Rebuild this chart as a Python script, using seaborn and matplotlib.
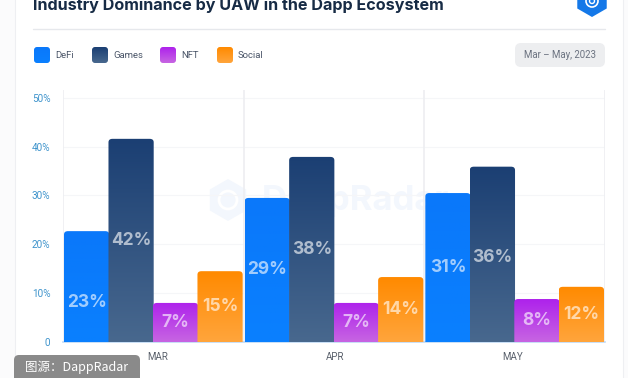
import numpy as np
import pandas as pd
import matplotlib
matplotlib.use("Agg")
import matplotlib.pyplot as plt
import matplotlib.colors as mcolors
from matplotlib.patches import FancyBboxPatch, RegularPolygon, Circle, Rectangle
from matplotlib.transforms import ScaledTranslation
import seaborn as sns

months = ["MAR", "APR", "MAY"]
sectors = ["DeFi", "Games", "NFT", "Social"]
defi = [22.7, 29.5, 30.5]
games = [41.6, 37.9, 35.9]
nft = [8.0, 8.0, 8.8]
social = [14.5, 13.3, 11.3]
defi_labels = ["23%", "29%", "31%"]
games_labels = ["42%", "38%", "36%"]
nft_labels = ["7%", "7%", "8%"]
social_labels = ["15%", "14%", "12%"]
yticks = [0, 10, 20, 30, 40, 50]
ytick_labels = ["0", "10%", "20%", "30%", "40%", "50%"]
title = "Industry Dominance by UAW in the Dapp Ecosystem"
date_range = "Mar – May, 2023"
source = "图源：DappRadar"

# top and bottom colour of each bar gradient
grads = {"DeFi": ("#0A78FA", "#0A80FF"), "Games": ("#1B3F73", "#48688E"),
         "NFT": ("#AE22EC", "#C765E2"), "Social": ("#FF8A00", "#FFA53C")}

W, H = 628, 378
sns.set_theme(style="white")
plt.rcParams["font.family"] = ["Roboto", "DejaVu Sans"]
fig = plt.figure(figsize=(W / 100, H / 100), dpi=100, facecolor="#FBFBFC")

# page level things are placed in pixels
bg = fig.add_axes([0, 0, 1, 1], zorder=0)
bg.set_xlim(0, W)
bg.set_ylim(H, 0)
bg.axis("off")
bg.add_patch(Rectangle((15, -5), 608, H + 10, fc="white", ec="#EEEFF2", lw=0.8))
bg.plot([33, 605], [29, 29], color="#E6E8EC", lw=1)
bg.text(33, 5.5, title, fontsize=11.6, fontweight="bold", family="Inter", color="#172B45", va="center", ha="left")
bg.add_patch(RegularPolygon((592, 0), 6, radius=17, fc="#1478E8", ec="none"))
bg.add_patch(Circle((592, 1), 6, fc="none", ec="white", lw=1.2))
bg.add_patch(Circle((592, 1), 2.5, fc="none", ec="white", lw=1))

# watermark
bg.add_patch(RegularPolygon((228, 200), 6, radius=21, fc="#F3F7FD", ec="none"))
bg.add_patch(Circle((228, 200), 9, fc="none", ec="white", lw=2))
bg.text(262, 201, "DappRadar", fontsize=25, fontweight="bold", family="Inter", color="#F3F7FD", va="center", ha="left")

# legend
leg_x = [34, 92, 160, 217]
for name, lx in zip(sectors, leg_x):
    img = mcolors.LinearSegmentedColormap.from_list(name, grads[name])(np.linspace(0, 1, 64)[:, None])
    box = FancyBboxPatch((lx, 47), 16, 16, boxstyle="round,pad=0,rounding_size=3", fc="none", ec="none")
    bg.add_patch(box)
    im = bg.imshow(img, extent=(lx, lx + 16, 63, 47), aspect="auto", zorder=2)
    im.set_clip_path(box)
    bg.text(lx + 21, 55, name, fontsize=6.8, color="#4A5568", va="center", ha="left")
bg.set_xlim(0, W)
bg.set_ylim(H, 0)

# date pill
bg.add_patch(FancyBboxPatch((515, 43), 90, 24, boxstyle="round,pad=0,rounding_size=6", fc="#EDEEF0", ec="none"))
bg.text(560, 55, date_range, fontsize=6.9, color="#6B7280", va="center", ha="center")

df = pd.DataFrame({"month": np.tile(months, 4), "sector": np.repeat(sectors, 3),
                   "value": defi + games + nft + social,
                   "label": defi_labels + games_labels + nft_labels + social_labels})

ax = fig.add_axes([63 / W, 1 - 342 / H, 542 / W, 252 / H], zorder=1)
ax.patch.set_alpha(0)
sns.barplot(data=df, x="month", y="value", hue="sector", order=months, hue_order=sectors,
            width=0.985, gap=0, legend=False, ax=ax, zorder=3)
ax.set_xlim(-0.5, 2.5)
ax.set_ylim(0, 51.6)
ax.set_xlabel("")
ax.set_ylabel("")
ax.set_yticks(yticks)
ax.set_yticklabels(ytick_labels, fontsize=7.2, color="#3F94CC")
ax.tick_params(axis="x", labelsize=7, labelcolor="#59606B", length=0, pad=7)
ax.tick_params(axis="y", length=0, pad=9)
# month labels do not sit quite under the group centres
for lab, dx in zip(ax.get_xticklabels(), [4, 1, -2]):
    lab.set_transform(lab.get_transform() + ScaledTranslation(dx / 100, 0, fig.dpi_scale_trans))
for y in yticks[1:]:
    ax.axhline(y, color="#F5F6F8", lw=0.8, zorder=1)
for x in [-0.5, 0.5, 1.5, 2.5]:
    ax.axvline(x, color="#EDEEF1", lw=1.2, zorder=1)
sns.despine(ax=ax, left=True, right=True, top=True, bottom=False)
ax.spines["bottom"].set_color("#BFD9F5")
ax.spines["bottom"].set_linewidth(1.2)

# swap each flat bar for a rounded gradient one, keeping the geometry seaborn gave it
label_shift = {"23%": -3.3, "36%": -0.7}
overlap = 0.002
for cont, name in zip(ax.containers, sectors):
    cmap = mcolors.LinearSegmentedColormap.from_list(name, grads[name])
    sub = df[df["sector"] == name]
    for bar, (_, row) in zip(cont, sub.iterrows()):
        x0, w, h = bar.get_x(), bar.get_width(), bar.get_height()
        bar.set_visible(False)
        rx = 0.022
        ry = 0.7
        box = FancyBboxPatch((x0 - overlap, -3), w + 2 * overlap, h + 3, boxstyle=f"round,pad=0,rounding_size={rx}",
                             mutation_aspect=ry / rx, fc="none", ec="none", zorder=3)
        ax.add_patch(box)
        img = cmap(np.linspace(0, 1, 128)[:, None])
        im = ax.imshow(img, extent=(x0 - overlap, x0 + w + overlap, 0, h), aspect="auto", zorder=3)
        im.set_clip_path(box)
        ax.text(x0 + w / 2, h / 2 + label_shift.get(row["label"], 0), row["label"], fontsize=12.5,
                fontweight="bold", family="Inter", color="white", alpha=0.62, ha="center", va="center", zorder=4)
ax.set_xlim(-0.5, 2.5)
ax.set_ylim(0, 51.6)

# source badge on top of everything
top = fig.add_axes([0, 0, 1, 1], zorder=5)
top.set_xlim(0, W)
top.set_ylim(H, 0)
top.axis("off")
top.patch.set_alpha(0)
top.add_patch(FancyBboxPatch((14, 355), 126, 30, boxstyle="round,pad=0,rounding_size=5", fc="#8A8A8A", ec="none"))
top.text(25, 367.5, source, fontsize=9, fontweight="medium", color="white", va="center", ha="left",
         family=["Noto Sans CJK SC", "DejaVu Sans"])

fig.savefig("out.png", dpi=100, facecolor=fig.get_facecolor())
